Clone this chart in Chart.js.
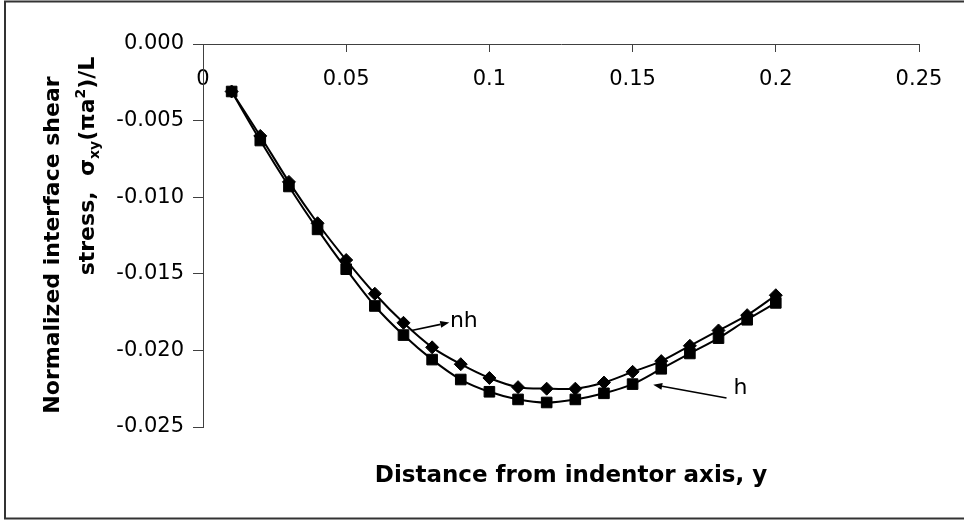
<!DOCTYPE html>
<html><head><meta charset="utf-8">
<script src="https://cdn.jsdelivr.net/npm/chart.js@4.4.1/dist/chart.umd.min.js"></script>
<style>html,body{margin:0;padding:0;background:#fff;}#wrap{width:964px;height:523px;}</style>
</head><body><div id="wrap"><canvas id="c" width="964" height="523"></canvas></div>
<script>
// ---- data ----
const distances = [0.01,0.02,0.03,0.04,0.05,0.06,0.07,0.08,0.09,0.10,0.11,0.12,0.13,0.14,0.15,0.16,0.17,0.18,0.19,0.20];
const stressNH = [-0.0031,-0.0060,-0.0090,-0.0117,-0.0141,-0.0163,-0.0182,-0.0198,-0.0209,-0.0218,-0.0224,-0.0225,-0.0225,-0.0221,-0.0214,-0.0207,-0.0197,-0.0187,-0.0177,-0.0164];
const stressH  = [-0.0031,-0.0063,-0.0093,-0.0121,-0.0147,-0.0171,-0.0190,-0.0206,-0.0219,-0.0227,-0.0232,-0.0234,-0.0232,-0.0228,-0.0222,-0.0212,-0.0202,-0.0192,-0.0180,-0.0169];
const xTickValues = [0,0.05,0.1,0.15,0.2,0.25];
const xTickLabels = ['0','0.05','0.1','0.15','0.2','0.25'];
const yTickValues = [-0.025,-0.02,-0.015,-0.01,-0.005,0];
const yTickLabels = ['-0.025','-0.020','-0.015','-0.010','-0.005','0.000'];
const seriesNames = ['nh','h'];
const xTitle = 'Distance from indentor axis, y';
const yTitleLine1 = 'Normalized interface shear';
const yTitleLine2 = [['stress,  σ',''],['xy','sub'],['(πa',''],['2','sup'],[')/L','']];
// annotation labels with arrows (data coordinates)
const labelText = ['nh','h'];
const labelX = [0.0862,0.1852];
const labelY = [-0.0181,-0.02247];
const arrowFromX = [0.0728,0.1828];
const arrowFromY = [-0.0187,-0.02311];
const arrowToX = [0.0860,0.1572];
const arrowToY = [-0.01818,-0.02224];

const FONT = 'DejaVu Sans';

const decor = {
  id:'decor',
  beforeDraw(chart){
    const ctx = chart.ctx;
    ctx.save();
    ctx.strokeStyle = '#333';
    ctx.lineWidth = 2;
    ctx.strokeRect(5, 1.5, 975, 517);
    ctx.restore();
  },
  afterDraw(chart){
    const ctx = chart.ctx;
    const xs = chart.scales.x, ys = chart.scales.y;
    ctx.save();
    ctx.fillStyle = '#000';
    // x title
    ctx.font = 'bold 23px ' + FONT;
    ctx.textAlign = 'center';
    ctx.textBaseline = 'alphabetic';
    ctx.fillText(xTitle, 571, 482);
    // y title line 1
    ctx.save();
    ctx.translate(59, 245);
    ctx.rotate(-Math.PI/2);
    ctx.font = 'bold 22px ' + FONT;
    ctx.textAlign = 'center';
    ctx.fillText(yTitleLine1, 0, 0);
    ctx.restore();
    // y title line 2 (rich)
    ctx.save();
    ctx.translate(94, 166);
    ctx.rotate(-Math.PI/2);
    ctx.textAlign = 'left';
    const segs = yTitleLine2.map(([t,k]) => ({t, k, f: 'bold ' + (k ? 14 : 22) + 'px ' + FONT}));
    let total = 0;
    segs.forEach(s => { ctx.font = s.f; s.w = ctx.measureText(s.t).width; total += s.w; });
    let px = -total/2;
    segs.forEach(s => {
      ctx.font = s.f;
      const dy = s.k === 'sub' ? 5 : (s.k === 'sup' ? -9 : 0);
      ctx.fillText(s.t, px, dy);
      px += s.w;
    });
    ctx.restore();
    // annotations
    ctx.strokeStyle = '#000';
    ctx.lineWidth = 1.6;
    ctx.font = '22px ' + FONT;
    ctx.textAlign = 'left';
    ctx.textBaseline = 'middle';
    for (let i = 0; i < labelText.length; i++) {
      const fx = xs.getPixelForValue(arrowFromX[i]), fy = ys.getPixelForValue(arrowFromY[i]);
      const tx = xs.getPixelForValue(arrowToX[i]), ty = ys.getPixelForValue(arrowToY[i]);
      const ang = Math.atan2(ty - fy, tx - fx);
      const L = 9, W = 3.5;
      const bx = tx - L*Math.cos(ang), by = ty - L*Math.sin(ang);
      ctx.beginPath(); ctx.moveTo(fx, fy); ctx.lineTo(bx, by); ctx.stroke();
      ctx.beginPath();
      ctx.moveTo(tx, ty);
      ctx.lineTo(bx + W*Math.sin(ang), by - W*Math.cos(ang));
      ctx.lineTo(bx - W*Math.sin(ang), by + W*Math.cos(ang));
      ctx.closePath(); ctx.fill();
      ctx.fillText(labelText[i], xs.getPixelForValue(labelX[i]), ys.getPixelForValue(labelY[i]));
    }
    ctx.restore();
  }
};

const mk = (arr) => distances.map((x,i) => ({x, y: arr[i]}));

new Chart(document.getElementById('c'), {
  type: 'line',
  data: {
    datasets: [
      {label: seriesNames[0], data: mk(stressNH), borderColor:'#000', borderWidth:2, backgroundColor:'#000',
       pointStyle:'rectRot', pointRadius:6.5, pointBackgroundColor:'#000', pointBorderColor:'#000', pointBorderWidth:1,
       tension:0.3, fill:false, clip:false},
      {label: seriesNames[1], data: mk(stressH), borderColor:'#000', borderWidth:2, backgroundColor:'#000',
       pointStyle:'rect', pointRadius:7.5, pointBackgroundColor:'#000', pointBorderColor:'#000', pointBorderWidth:1,
       tension:0.3, fill:false, clip:false}
    ]
  },
  options: {
    responsive:false, animation:false, devicePixelRatio:1,
    layout:{padding:{top:44, bottom:96, left:0, right:45}},
    plugins:{legend:{display:false}, tooltip:{enabled:false}},
    scales:{
      x:{type:'linear', min:0, max:0.25, position:{y:0},
         afterBuildTicks: s => { s.ticks = xTickValues.map(v => ({value:v})); },
         ticks:{callback:(v,i) => xTickLabels[i], font:{family:FONT, size:21}, color:'#000', padding:16, maxRotation:0, autoSkip:false},
         grid:{drawOnChartArea:false, drawTicks:true, tickLength:7, color:'#404040', lineWidth:1},
         border:{display:true, color:'#404040', width:1}},
      y:{type:'linear', min:-0.025, max:0, position:'left',
         afterBuildTicks: s => { s.ticks = yTickValues.map(v => ({value:v})); },
         afterFit: s => { s.width = 203; },
         ticks:{callback:(v,i) => yTickLabels[i], font:{family:FONT, size:21}, color:'#000', padding:9, autoSkip:false},
         grid:{drawOnChartArea:false, drawTicks:true, tickLength:10, color:'#404040', lineWidth:1},
         border:{display:true, color:'#404040', width:1}}
    }
  },
  plugins:[decor]
});
</script></body></html>
